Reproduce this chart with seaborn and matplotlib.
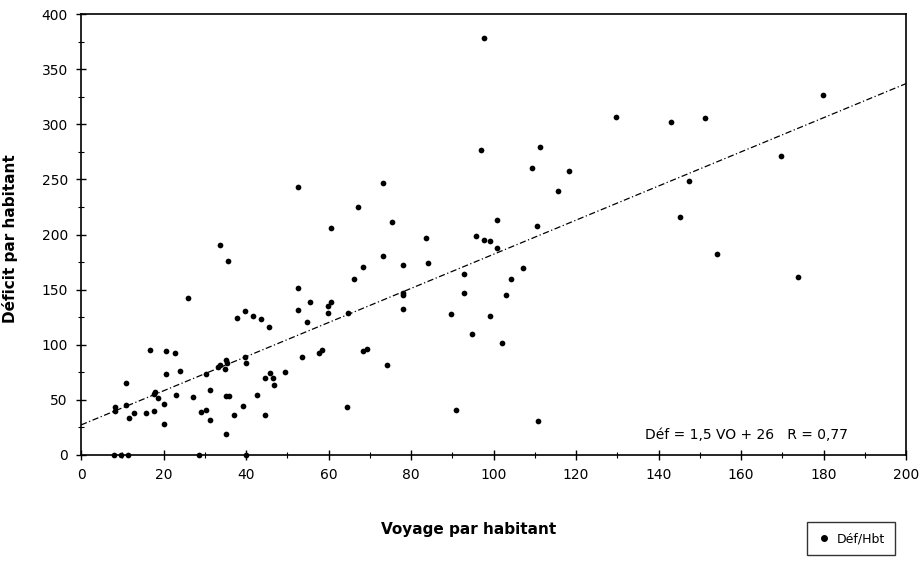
import numpy as np
import pandas as pd
import matplotlib
matplotlib.use("Agg")
import matplotlib.pyplot as plt
import seaborn as sns
from matplotlib.lines import Line2D
from matplotlib.ticker import MultipleLocator

# Data
voyage = [
    33.6, 35.6, 25.9, 16.8, 20.6, 22.7, 10.8, 20.7, 24.0, 8.2,
    8.3, 10.8, 11.7, 12.9, 15.8, 17.8, 17.9, 17.8, 18.6, 20.0,
    20.0, 23.0, 27.1, 29.1, 30.4, 31.2, 31.3, 30.2, 33.1, 33.6,
    34.8, 35.1, 35.3, 35.2, 35.9, 35.2, 37.2, 39.2, 39.7, 39.9,
    37.7, 39.7, 41.7, 43.7, 45.6, 42.7, 44.6, 44.7, 45.8, 46.6,
    46.8, 49.4, 52.6, 52.6, 55.6, 54.7, 53.6, 57.8, 58.5, 52.5,
    97.8, 97.0, 111.3, 109.3, 73.3, 67.2, 60.6, 75.3, 100.8, 110.5,
    83.7, 95.8, 97.8, 99.1, 100.8, 73.2, 68.3, 78.1, 84.1, 66.3,
    107.2, 104.2, 92.8, 92.8, 103.0, 59.8, 60.6, 59.8, 64.8, 78.1,
    78.1, 78.1, 89.6, 99.1, 94.9, 102.1, 68.4, 69.3, 74.2, 64.4,
    91.0, 110.9, 129.7, 143.0, 151.3, 118.2, 115.6, 147.3, 145.1, 154.3,
    179.9, 169.8, 173.8, 8.1, 9.6, 11.5, 28.6, 40.0,
]
deficit = [
    190.8, 176.3, 142.0, 95.6, 94.0, 92.4, 65.3, 73.6, 76.4, 43.6,
    40.0, 45.6, 33.6, 37.9, 38.5, 40.2, 57.0, 55.0, 52.0, 46.5,
    27.7, 54.2, 52.8, 39.1, 40.5, 31.4, 59.3, 73.6, 79.6, 81.3,
    77.9, 86.4, 83.6, 53.7, 53.3, 18.6, 35.9, 44.8, 89.3, 83.6,
    124.7, 130.9, 126.4, 123.8, 115.8, 54.8, 36.5, 69.6, 74.4, 69.9,
    63.6, 75.0, 151.5, 131.8, 138.4, 120.7, 89.3, 92.7, 95.0, 242.8,
    378.5, 276.4, 279.6, 260.1, 247.0, 225.3, 206.2, 211.1, 212.8, 207.9,
    196.8, 198.5, 195.4, 193.7, 187.4, 180.6, 170.6, 172.6, 174.0, 159.2,
    169.7, 159.8, 164.6, 146.9, 145.5, 135.0, 138.4, 128.6, 129.2, 146.9,
    144.9, 132.0, 127.8, 126.4, 110.1, 101.2, 94.4, 96.4, 81.3, 43.4,
    40.5, 30.8, 306.6, 302.3, 305.8, 257.6, 239.9, 248.8, 215.9, 182.0,
    326.6, 271.5, 161.5, 0.0, 0.0, 0.0, 0.0, 0.0,
]

x_ticks = list(range(0, 201, 20))
y_ticks = list(range(0, 401, 50))
equation = "Déf = 1,5 VO + 26   R = 0,77"
series_name = "Déf/Hbt"

df = pd.DataFrame({"Voyage": voyage, "Deficit": deficit})

sns.set_style("white")
plt.rcParams["font.family"] = ["DejaVu Sans"]
plt.rcParams["text.color"] = "black"
plt.rcParams["axes.labelcolor"] = "black"
plt.rcParams["xtick.color"] = "black"
plt.rcParams["ytick.color"] = "black"

fig = plt.figure(figsize=(9.23, 5.67), dpi=100)
ax = fig.add_axes([81 / 923, 1 - 455 / 567, 825 / 923, 441 / 567])
ax.set_xlim(0, 200)
ax.set_ylim(0, 400)

# scatter + least squares line (extended over the whole x range)
sns.regplot(
    data=df, x="Voyage", y="Deficit", ax=ax, ci=None, truncate=False,
    scatter_kws={"s": 17, "color": "black", "alpha": 1, "linewidths": 0,
                 "clip_on": False, "zorder": 3},
    line_kws={"color": "black", "linewidth": 0.9, "linestyle": (0, (5, 2, 1, 2))},
)

ax.set_xlim(0, 200)
ax.set_ylim(0, 400)
ax.set_xticks(x_ticks)
ax.set_yticks(y_ticks)
ax.xaxis.set_minor_locator(MultipleLocator(10))
ax.yaxis.set_minor_locator(MultipleLocator(25))
ax.tick_params(which="major", direction="inout", length=7, width=1, labelsize=10, pad=6)
ax.tick_params(which="minor", direction="inout", length=4, width=0.8)
ax.tick_params(axis="both", which="both", bottom=True, left=True)

for s in ax.spines.values():
    s.set_color("black")
    s.set_linewidth(1.2)

ax.set_xlabel("Voyage par habitant", fontsize=11, fontweight="bold")
ax.set_ylabel("Déficit par habitant", fontsize=11, fontweight="bold")
ax.xaxis.set_label_coords(0.47, -0.152)
ax.yaxis.set_label_coords(-0.076, 0.49)

ax.text(0.684, 0.03, equation, transform=ax.transAxes, fontsize=10, va="bottom", ha="left")

handle = Line2D([], [], marker="o", linestyle="none", color="black", markersize=4)
leg = ax.legend([handle], [series_name], loc="center", bbox_to_anchor=(0.922, 0.05),
                bbox_transform=fig.transFigure, frameon=True, fancybox=False,
                fontsize=9, handletextpad=0.4, borderpad=0.8, handlelength=1.2)
leg.get_frame().set_edgecolor("black")
leg.get_frame().set_linewidth(1)

fig.savefig("out.png", dpi=100)
